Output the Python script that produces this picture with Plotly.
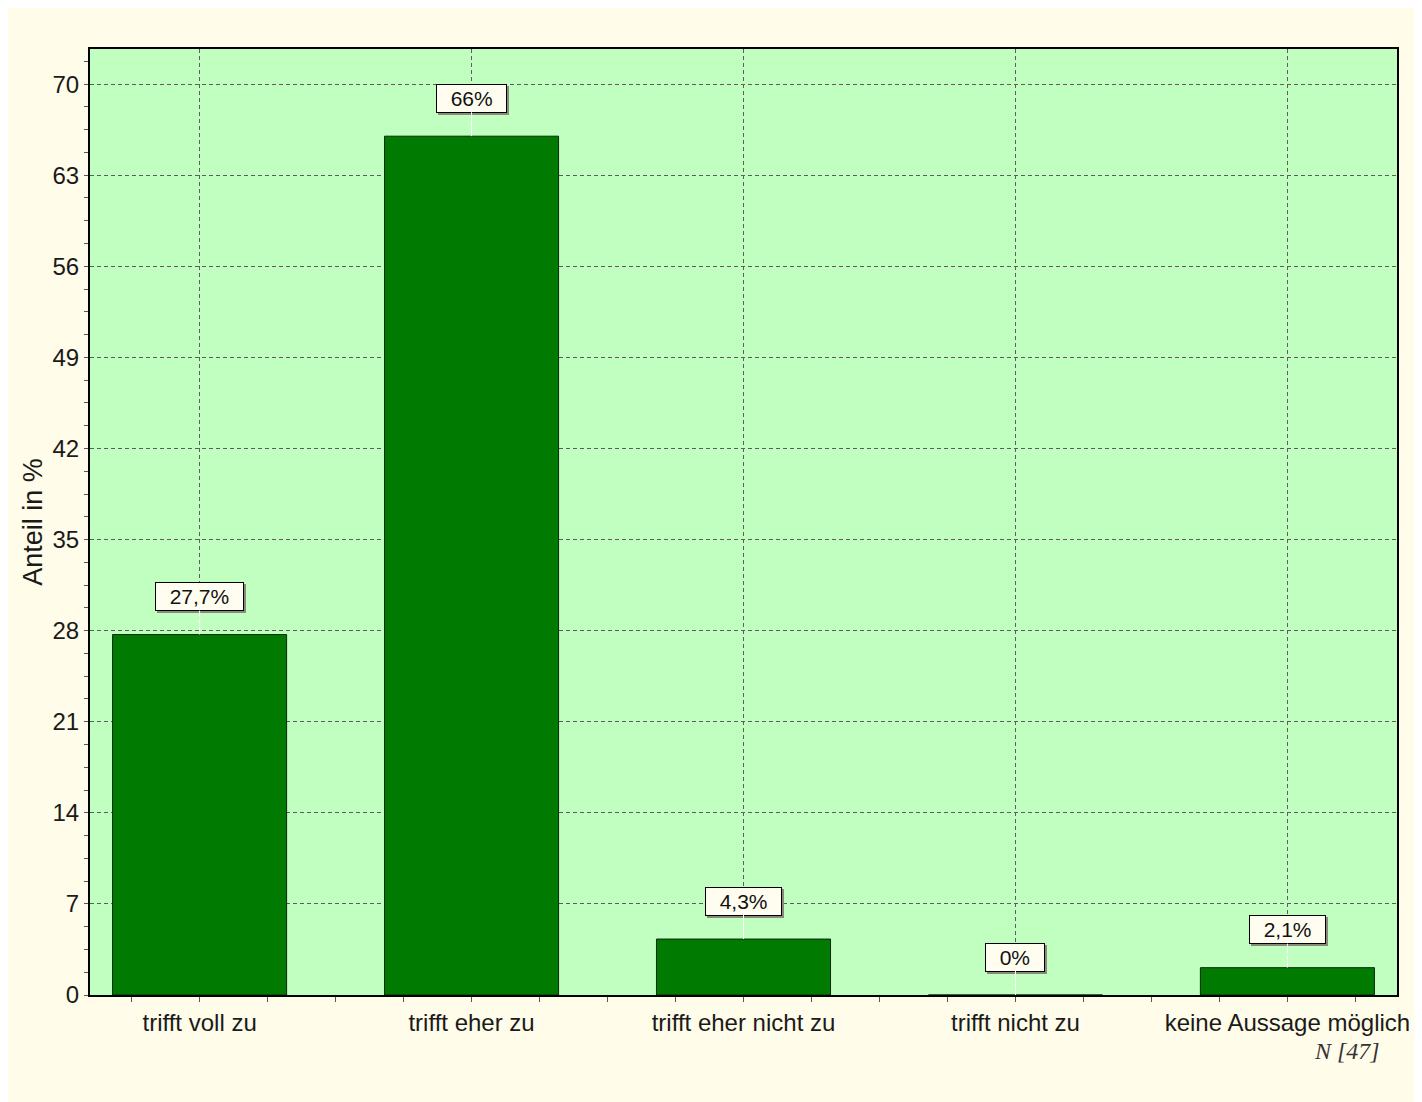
import plotly.graph_objects as go

# Daten
categories = ["trifft voll zu", "trifft eher zu", "trifft eher nicht zu", "trifft nicht zu", "keine Aussage möglich"]
values = [27.7, 66, 4.3, 0, 2.1]
value_labels = ["27,7%", "66%", "4,3%", "0%", "2,1%"]
y_ticks = [0, 7, 14, 21, 28, 35, 42, 49, 56, 63, 70]
n_text = "N [47]"

FONT = "Liberation Sans, Arial"
pad = "&nbsp;&nbsp;"

fig = go.Figure()

fig.add_trace(
    go.Bar(
        x=list(range(len(categories))),
        y=values,
        width=0.64,
        marker=dict(color="#007a00", line=dict(color="#0a2a0a", width=1)),
        hoverinfo="skip"
    )
)

# Wert-Beschriftungen in Kästchen (mit Schatten)
for i, (v, lab) in enumerate(zip(values, value_labels)):
    fig.add_annotation(
        x=i, y=v, xref="x", yref="y",
        text=pad + lab + pad,
        showarrow=True, arrowhead=0, arrowwidth=1, arrowcolor="rgba(0,0,0,0)",
        ax=2, ay=-36,
        font=dict(family=FONT, size=21, color="#8a8a7a"),
        bgcolor="#8a8a7a", bordercolor="#8a8a7a", borderwidth=1, borderpad=2
    )
    fig.add_annotation(
        x=i, y=v, xref="x", yref="y",
        text=pad + lab + pad,
        showarrow=True, arrowhead=0, arrowwidth=1, arrowcolor="white",
        ax=0, ay=-38,
        font=dict(family=FONT, size=21, color="#111111"),
        bgcolor="#fffdf0", bordercolor="black", borderwidth=1, borderpad=2
    )

fig.add_annotation(
    x=0.962, y=-0.059, xref="paper", yref="paper",
    xanchor="center", yanchor="middle",
    text="<i>" + n_text + "</i>", showarrow=False,
    font=dict(family="Liberation Serif, Times New Roman", size=24, color="#333333")
)

fig.update_xaxes(
    tickmode="array",
    tickvals=list(range(len(categories))),
    ticktext=categories,
    range=[-0.403, 4.403],
    ticks="outside", ticklen=5, tickcolor="#555555",
    minor=dict(dtick=0.25, tick0=0, ticks="outside", ticklen=5, tickcolor="#555555"),
    showgrid=True, gridcolor="#5e5e5e", griddash="4px,3px", gridwidth=1,
    showline=True, linecolor="black", linewidth=2, mirror=True,
    tickfont=dict(family=FONT, size=24, color="#1a1a1a"),
    zeroline=False
)

fig.update_yaxes(
    tickmode="array",
    tickvals=y_ticks,
    range=[0, 72.7],
    ticks="outside", ticklen=4, tickcolor="#555555",
    minor=dict(dtick=1.75, tick0=0, ticks="outside", ticklen=4, tickcolor="#555555"),
    showgrid=True, gridcolor="#5e5e5e", griddash="4px,3px", gridwidth=1,
    showline=True, linecolor="black", linewidth=2, mirror=True,
    tickfont=dict(family=FONT, size=24, color="#1a1a1a"),
    title=dict(text="Anteil in %", font=dict(family=FONT, size=27, color="#1a1a1a"), standoff=2),
    zeroline=False
)

fig.update_layout(
    width=1414,
    height=1094,
    margin=dict(l=82, r=20, t=41, b=107),
    paper_bgcolor="#fffce9",
    plot_bgcolor="#c0ffc0",
    showlegend=False
)

fig.write_html("out.html")
